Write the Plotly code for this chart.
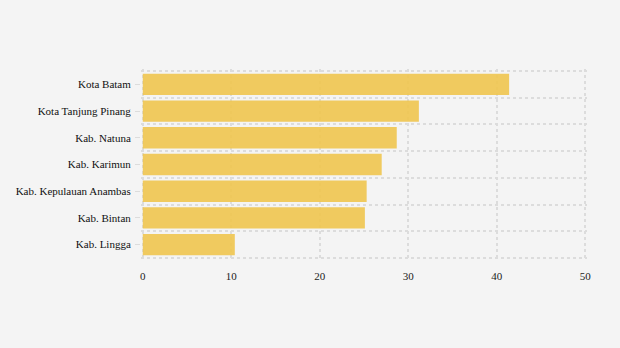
import plotly.graph_objects as go

# Regions (top to bottom) and their values
regions = [
    "Kota Batam",
    "Kota Tanjung Pinang",
    "Kab. Natuna",
    "Kab. Karimun",
    "Kab. Kepulauan Anambas",
    "Kab. Bintan",
    "Kab. Lingga",
]
values = [41.4, 31.2, 28.7, 27.0, 25.3, 25.1, 10.4]
x_ticks = [0, 10, 20, 30, 40, 50]

# numeric row positions so gridlines can sit between rows
positions = list(range(len(regions)))
boundaries = [p - 0.5 for p in positions] + [positions[-1] + 0.5]

BAR = "#f0c64f"
GRID = "#dcdcdc"
BG = "#f4f4f4"
FONT = "Liberation Serif, Times New Roman, serif"

# small padding so the outer gridlines are not clipped at the plot edge
XPAD = 0.2
YPAD = 0.075

fig = go.Figure(
    go.Bar(
        x=values,
        y=positions,
        orientation="h",
        marker=dict(color=BAR, line=dict(width=0)),
        opacity=0.9,
        width=0.8,
        hoverinfo="x+text",
        text=regions,
        textposition="none",
    )
)

fig.update_layout(
    width=620,
    height=348,
    margin=dict(l=141, r=33, t=69, b=88),
    paper_bgcolor=BG,
    plot_bgcolor=BG,
    font=dict(family=FONT, size=11, color="#222222"),
    showlegend=False,
    bargap=0.2,
)

fig.update_xaxes(
    range=[x_ticks[0] - XPAD, x_ticks[-1] + XPAD],
    tickvals=x_ticks,
    ticktext=[str(t) for t in x_ticks],
    showgrid=True,
    gridcolor=GRID,
    griddash="dot",
    gridwidth=1.5,
    zeroline=False,
    showline=False,
    ticks="",
    ticklabelstandoff=8,
    tickfont=dict(family=FONT, size=11, color="#222222"),
    fixedrange=True,
)

fig.update_yaxes(
    range=[positions[-1] + 0.5 + YPAD, positions[0] - 0.5 - YPAD],
    tickvals=positions,
    ticktext=regions,
    showgrid=False,
    zeroline=False,
    showline=False,
    ticks="outside",
    ticklen=5,
    tickwidth=1,
    tickcolor=GRID,
    ticklabelstandoff=2,
    tickfont=dict(family=FONT, size=11, color="#111111"),
    minor=dict(
        tickvals=boundaries,
        showgrid=True,
        gridcolor=GRID,
        griddash="dot",
        gridwidth=1.5,
        ticks="",
    ),
    fixedrange=True,
)

fig.write_html("out.html", config={"displayModeBar": False})
